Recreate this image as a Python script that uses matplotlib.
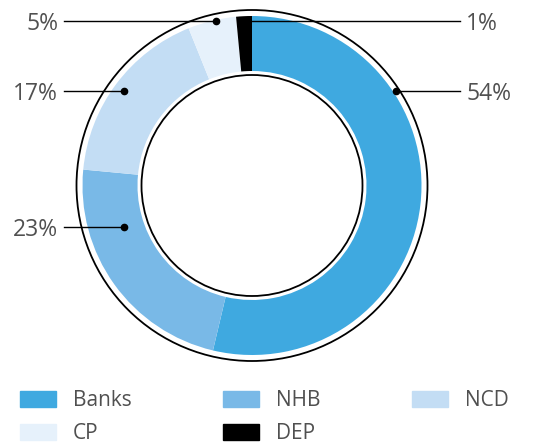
import matplotlib.pyplot as plt
from matplotlib.patches import Circle, Rectangle

plt.rcParams['font.family'] = ['Open Sans', 'DejaVu Sans']

# Funding mix
categories = ['Banks', 'NHB', 'NCD', 'CP', 'DEP']
shares = [53.7, 22.8, 17.4, 4.6, 1.5]      # slice sizes as measured
pct_labels = ['54%', '23%', '17%', '5%', '1%']
colors = ['#3fa9e0', '#79b9e7', '#c3ddf4', '#e6f1fb', '#000000']

# label layout in pixel coords (x, y from top): dot, line end, text side
label_layout = {
    'Banks': ((396, 91), 460, 'left'),
    'NHB': ((124, 227), 64, 'right'),
    'NCD': ((124, 91), 64, 'right'),
    'CP': ((216, 21), 64, 'right'),
    'DEP': ((245, 21), 460, 'left'),
}

W, H = 551, 444
cx, cy = 252, 185.5


def fy(y):
    return H - y


fig = plt.figure(figsize=(W / 100, H / 100), dpi=100)
ax = fig.add_axes([0, 0, 1, 1])

ax.pie(shares, colors=colors, startangle=90, counterclock=False,
       center=(cx, fy(cy)), radius=169.5,
       wedgeprops=dict(width=55, linewidth=0))

ax.add_patch(Circle((cx, fy(cy)), 175.5, fill=False, ec='black', lw=1.3))
ax.add_patch(Circle((cx, fy(cy)), 110.5, fill=False, ec='black', lw=1.3))

text_color = '#505050'
for cat, lab in zip(categories, pct_labels):
    (dx, dy), xend, side = label_layout[cat]
    ax.plot([dx, xend], [fy(dy), fy(dy)], color='black', lw=1)
    ax.plot(dx, fy(dy), 'o', color='black', ms=4.5)
    tx = xend + 6 if side == 'left' else xend - 6
    ax.text(tx, fy(dy), lab, ha=side, va='center_baseline',
            fontsize=16.5, color=text_color)

ax.set_xlim(0, W)
ax.set_ylim(0, H)
ax.set_aspect('equal')
ax.axis('off')

# legend: column-major order gives rows Banks/NHB/NCD and CP/DEP
order = [0, 3, 1, 4, 2]
handles = [Rectangle((0, 0), 1, 1, color=colors[i]) for i in order]
labels = [categories[i] for i in order]
fig.legend(handles, labels, ncol=3, loc='lower left',
           bbox_to_anchor=(18 / W, -2.5 / H), bbox_transform=fig.transFigure,
           frameon=False, fontsize=15, labelcolor=text_color,
           handlelength=1.73, handleheight=0.82, handletextpad=0.8,
           columnspacing=4.4, labelspacing=0.6, borderpad=0.1,
           borderaxespad=0)

fig.savefig('out.png', dpi=100)
